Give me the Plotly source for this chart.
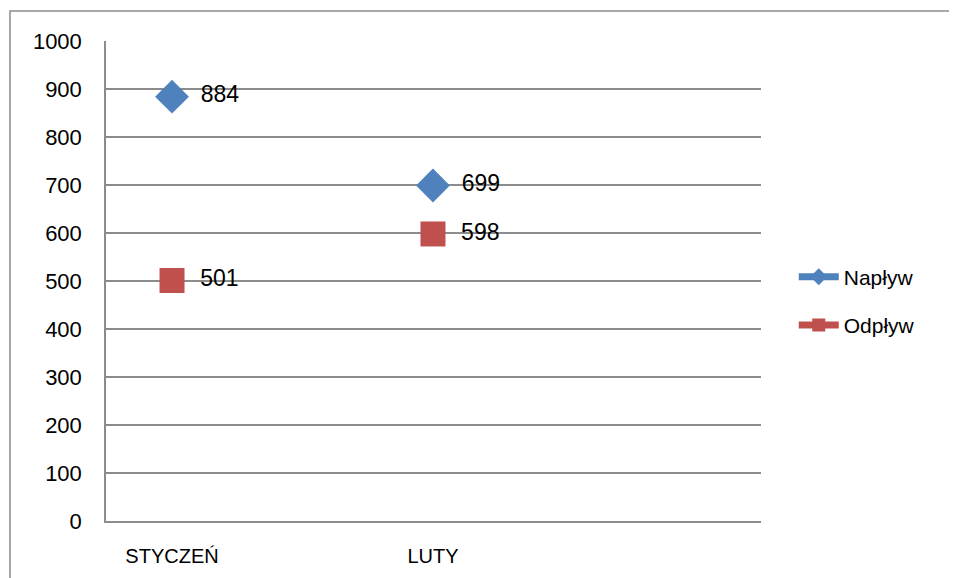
import plotly.graph_objects as go

months = ["STYCZEŃ", "LUTY"]
naplyw = [884, 699]
odplyw = [501, 598]
y_ticks = list(range(0, 1001, 100))

BLUE = "#4F81BD"
RED = "#C0504D"
GRID = "#8c8c8c"
FONT = "Liberation Sans, Arial, sans-serif"

fig = go.Figure()

# data points with labels (no connecting line in the original)
fig.add_trace(go.Scatter(x=months, y=naplyw, mode="markers+text", showlegend=False,
                         marker=dict(symbol="diamond", size=26, color=BLUE),
                         text=["\u2002" + str(v) for v in naplyw], textposition="middle right",
                         textfont=dict(size=23, color="black", family=FONT),
                         cliponaxis=False))
fig.add_trace(go.Scatter(x=months, y=odplyw, mode="markers+text", showlegend=False,
                         marker=dict(symbol="square", size=25, color=RED),
                         text=["\u2002" + str(v) for v in odplyw], textposition="middle right",
                         textfont=dict(size=23, color="black", family=FONT),
                         cliponaxis=False))

# legend entries (line + marker, like the Excel legend)
fig.add_trace(go.Scatter(x=[None], y=[None], name="Napływ", mode="lines+markers",
                         legendgroup="a", line=dict(color=BLUE, width=7),
                         marker=dict(symbol="diamond", size=13, color=BLUE)))
fig.add_trace(go.Scatter(x=[None], y=[None], name="Odpływ", mode="lines+markers",
                         legendgroup="b", line=dict(color=RED, width=7),
                         marker=dict(symbol="square", size=13, color=RED)))

fig.update_layout(
    width=957, height=578,
    margin=dict(l=98, r=204, t=33, b=65),
    paper_bgcolor="white", plot_bgcolor="white",
    font=dict(family=FONT, color="black"),
    legend=dict(x=1.05, y=0.458, xanchor="left", yanchor="middle",
                font=dict(size=21, family=FONT), traceorder="grouped",
                tracegroupgap=18, itemwidth=40, bgcolor="rgba(0,0,0,0)"),
    shapes=[dict(type="rect", xref="paper", yref="paper",
                 x0=-0.1466, x1=1.6, y0=-0.3, y1=1.0625,
                 line=dict(color="#8c8c8c", width=1.5), layer="below")],
)

fig.update_xaxes(type="category", categoryorder="array", categoryarray=months,
                 range=[-0.253, 2.257], showgrid=False, zeroline=False,
                 showline=True, linecolor=GRID, linewidth=1.5, ticks="",
                 tickfont=dict(size=20), ticklabelstandoff=16)
fig.update_yaxes(range=[0, 1000], tickvals=y_ticks, showgrid=True, gridcolor=GRID,
                 gridwidth=1.5, zeroline=False, showline=True, linecolor=GRID,
                 linewidth=1.5, ticks="", tickfont=dict(size=22),
                 ticklabelstandoff=18)

fig.write_html("out.html")
